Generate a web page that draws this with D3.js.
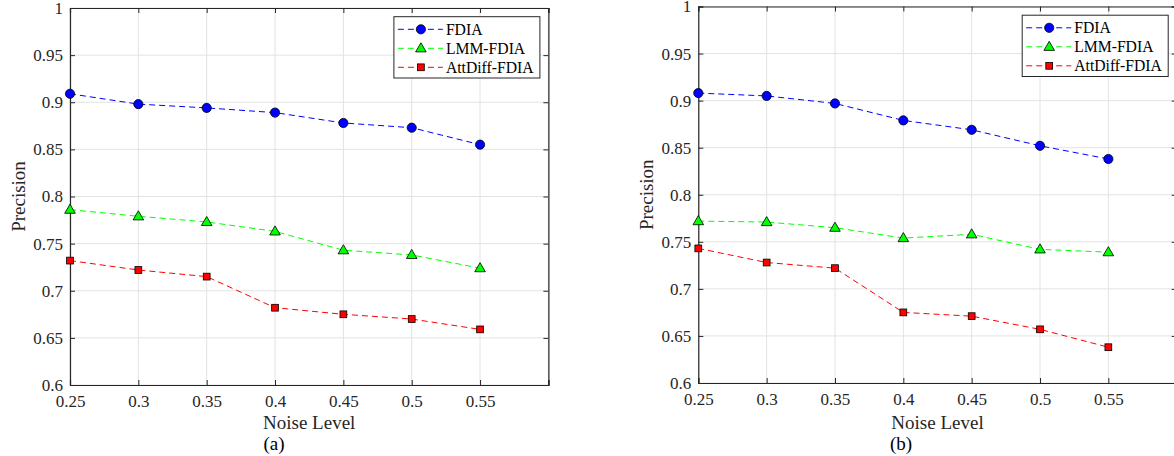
<!DOCTYPE html>
<html>
<head>
<meta charset="utf-8">
<script src="https://cdn.jsdelivr.net/npm/d3@7"></script>
<style>
  body { margin: 0; background: #fff; }
  svg { display: block; font-family: "Liberation Serif", "Times New Roman", serif; }
</style>
</head>
<body>
<div id="canvas"></div>
<script>
var width = 1174,
	height = 456;

// noise levels on the x axis
var noise = [0.25, 0.3, 0.35, 0.4, 0.45, 0.5, 0.55];
var xTicks = [0.25, 0.3, 0.35, 0.4, 0.45, 0.5, 0.55, 0.6];
var xTickLabels = ['0.25', '0.3', '0.35', '0.4', '0.45', '0.5', '0.55', ''];
var yTicks = [0.6, 0.65, 0.7, 0.75, 0.8, 0.85, 0.9, 0.95, 1];
var yTickLabels = ['0.6', '0.65', '0.7', '0.75', '0.8', '0.85', '0.9', '0.95', '1'];

var seriesNames = ['FDIA', 'LMM-FDIA', 'AttDiff-FDIA'];
var seriesColors = ['#0000ff', '#00ff00', '#ff0000'];
var seriesMarkers = ['circle', 'triangle', 'square'];

// panel (a)
var fdiaA = [0.909, 0.898, 0.894, 0.889, 0.878, 0.873, 0.855];
var lmmA = [0.786, 0.779, 0.773, 0.763, 0.743, 0.738, 0.724];
var attA = [0.732, 0.722, 0.715, 0.682, 0.675, 0.670, 0.659];

// panel (b)
var fdiaB = [0.908, 0.905, 0.897, 0.879, 0.869, 0.852, 0.838];
var lmmB = [0.772, 0.771, 0.765, 0.754, 0.758, 0.742, 0.739];
var attB = [0.743, 0.728, 0.722, 0.675, 0.671, 0.657, 0.638];

var panels = [
	{ tag: '(a)', left: 70, right: 548.4, top: 8, bottom: 385, tagX: 274, ylabX: 18, series: [fdiaA, lmmA, attA] },
	{ tag: '(b)', left: 698.3, right: 1176.7, top: 6.5, bottom: 383, tagX: 901, ylabX: 646.5, series: [fdiaB, lmmB, attB] }
];

var axisColor = '#262626',
	gridColor = '#e3e3e3',
	serif = '"Liberation Serif", "Times New Roman", serif';

var svg = d3.select('#canvas')
	.append('svg')
	.attr('width', width)
	.attr('height', height);

function drawMarker(g, type, x, y, color) {
	if (type == 'circle') {
		g.append('circle')
			.attr('cx', x).attr('cy', y).attr('r', 4.6)
			.attr('fill', color).attr('stroke', '#000').attr('stroke-width', 0.8);
	} else if (type == 'triangle') {
		g.append('path')
			.attr('d', `M${x},${y - 5.5}L${x + 5.3},${y + 3.6}L${x - 5.3},${y + 3.6}Z`)
			.attr('fill', color).attr('stroke', '#000').attr('stroke-width', 0.8);
	} else {
		g.append('rect')
			.attr('x', x - 3.4).attr('y', y - 3.4).attr('width', 6.8).attr('height', 6.8)
			.attr('fill', color).attr('stroke', '#000').attr('stroke-width', 0.8);
	}
}

panels.forEach(function(p) {
	var x = d3.scaleLinear().domain([0.25, 0.6]).range([p.left, p.right]);
	var y = d3.scaleLinear().domain([0.6, 1]).range([p.bottom, p.top]);
	var g = svg.append('g');

	// grid
	g.selectAll('.vgrid').data(xTicks).enter().append('line')
		.attr('x1', d => x(d)).attr('x2', d => x(d))
		.attr('y1', p.top).attr('y2', p.bottom)
		.attr('stroke', gridColor).attr('stroke-width', 1);
	g.selectAll('.hgrid').data(yTicks).enter().append('line')
		.attr('x1', p.left).attr('x2', p.right)
		.attr('y1', d => y(d)).attr('y2', d => y(d))
		.attr('stroke', gridColor).attr('stroke-width', 1);

	// axes with inward ticks
	var xAxisB = d3.axisBottom(x).tickValues(xTicks).tickSize(-5).tickPadding(10)
		.tickFormat((d, i) => xTickLabels[i]);
	var xAxisT = d3.axisTop(x).tickValues(xTicks).tickSize(-5).tickFormat('');
	var yAxisL = d3.axisLeft(y).tickValues(yTicks).tickSize(-5).tickPadding(7)
		.tickFormat((d, i) => yTickLabels[i]);
	var yAxisR = d3.axisRight(y).tickValues(yTicks).tickSize(-5).tickFormat('');

	[[xAxisB, `translate(0,${p.bottom})`], [xAxisT, `translate(0,${p.top})`],
	 [yAxisL, `translate(${p.left},0)`], [yAxisR, `translate(${p.right},0)`]].forEach(function(a) {
		var ax = g.append('g').attr('transform', a[1]).call(a[0])
			.attr('font-family', serif)
			.attr('font-size', 17);
		ax.select('.domain').attr('stroke', axisColor).attr('stroke-width', 1.2);
		ax.selectAll('.tick line').attr('stroke', axisColor);
		ax.selectAll('.tick text').attr('fill', '#262626');
	});

	// series
	var line = d3.line().x((d, i) => x(noise[i])).y(d => y(d));
	p.series.forEach(function(vals, s) {
		g.append('path')
			.attr('d', line(vals))
			.attr('fill', 'none')
			.attr('stroke', seriesColors[s])
			.attr('stroke-width', 1)
			.attr('stroke-dasharray', '6,4');
		vals.forEach(function(v, i) {
			drawMarker(g, seriesMarkers[s], x(noise[i]), y(v), seriesColors[s]);
		});
	});

	// legend
	var lgR = p.right - 8.5,
		lgL = lgR - 146,
		lgT = p.top + 8.7;
	g.append('rect')
		.attr('x', lgL).attr('y', lgT).attr('width', 146).attr('height', 61.3)
		.attr('fill', '#fff').attr('stroke', axisColor).attr('stroke-width', 1);
	seriesNames.forEach(function(name, s) {
		var ly = lgT + 12.6 + s * 19;
		g.append('line')
			.attr('x1', lgL + 4).attr('x2', lgL + 49)
			.attr('y1', ly).attr('y2', ly)
			.attr('stroke', seriesColors[s]).attr('stroke-width', 1)
			.attr('stroke-dasharray', '6,4');
		drawMarker(g, seriesMarkers[s], lgL + 27, ly, seriesColors[s]);
		g.append('text')
			.attr('x', lgL + 52).attr('y', ly + 5.3)
			.attr('font-family', serif)
			.attr('font-size', '15.7px')
			.attr('fill', '#000')
			.text(name);
	});

	// axis labels
	var cx = (p.left + p.right) / 2;
	g.append('text')
		.attr('x', cx).attr('y', 429)
		.attr('text-anchor', 'middle')
		.attr('font-family', serif)
		.attr('font-size', '19px').attr('fill', '#262626')
		.text('Noise Level');
	g.append('text')
		.attr('transform', `translate(${p.ylabX + 6.5},${(p.top + p.bottom) / 2}) rotate(-90)`)
		.attr('text-anchor', 'middle')
		.attr('font-family', serif)
		.attr('font-size', '19px').attr('fill', '#262626')
		.text('Precision');
	g.append('text')
		.attr('x', p.tagX).attr('y', 450)
		.attr('text-anchor', 'middle')
		.attr('font-family', serif)
		.attr('font-size', '19px').attr('fill', '#000')
		.text(p.tag);
});
</script>
</body>
</html>
